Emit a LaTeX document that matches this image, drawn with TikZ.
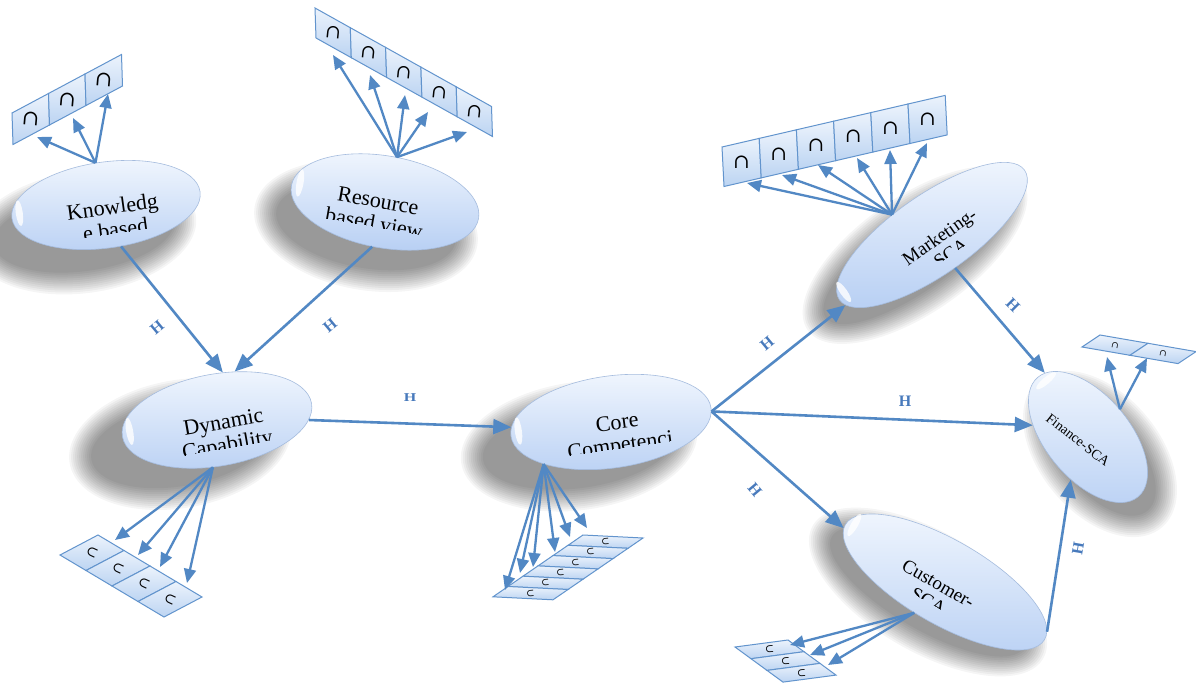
\documentclass[tikz,border=0pt]{standalone}
\usepackage{fontspec}
\setmainfont{Liberation Serif}
\newfontfamily\capfont{DejaVu Serif}
\usetikzlibrary{arrows.meta,calc,shapes.geometric}

\definecolor{linkblue}{RGB}{82,136,196}
\definecolor{boxedge}{RGB}{98,148,205}
\definecolor{boxtop}{RGB}{236,243,252}
\definecolor{boxbot}{RGB}{188,212,242}
\definecolor{bubtop}{RGB}{242,247,254}
\definecolor{bubbot}{RGB}{186,209,244}
\definecolor{bubedge}{RGB}{165,188,222}
\definecolor{tagblue}{RGB}{72,122,188}

\tikzset{
  bubble/.style={ellipse, draw=bubedge, line width=0.6pt, top color=bubtop,
    bottom color=bubbot, inner sep=0pt},
  bubtext/.style={font=\fontsize{22}{22}\selectfont, anchor=base, inner sep=0pt},
  link/.style={draw=linkblue, line width=2.6pt, -{Triangle[length=18pt,width=15pt]}},
  feed/.style={draw=linkblue, line width=2.3pt, -{Triangle[length=14pt,width=12pt]}},
  cell/.style={draw=boxedge, line width=1pt, top color=boxtop, bottom color=boxbot},
  capsym/.style={inner sep=0pt, text=black},
  tag/.style={text=tagblue, font=\fontsize{16}{16}\selectfont\bfseries, inner sep=0pt}
}

% soft drop shadow: stacked translucent ellipses
\newcommand\BubbleShadow[5]{%
  \foreach \k in {0,...,11}{%
    \fill[black, opacity=.04, rotate around={#5:(#1,#2)}] (#1,#2)
      ellipse [x radius={#3pt+18pt-2pt*\k}, y radius={#4pt+18pt-2pt*\k}];}}

% ellipse bubble: name, x, y, rx, ry, angle
\newcommand\Bubble[6]{%
  \gdef\bubx{#2}\gdef\buby{#3}\gdef\bubang{#6}%
  \begin{scope}[shift={(#2,#3)}, rotate=#6, transform shape]
    \node[bubble, minimum width=2*#4pt, minimum height=2*#5pt] (#1) at (0,0) {};
    \fill[white, opacity=.8] (-#4+8,-4) ellipse [x radius=3.5pt, y radius={0.3*#5pt}];
  \end{scope}}

% two text lines, the second one cut off at the given local height
\newcommand\BubbleText[7]{%
  \begin{scope}[shift={(\bubx,\buby)}, rotate=\bubang, transform shape]
    \clip (-150,-60) rectangle (150,#5);
    \node[bubtext] (#1-one) at (#2,#3) {#6};
    \node[bubtext] (#1-two) at (#2,#4) {#7};
  \end{scope}}

% row of indicator cells: last index, origin, step, side, symbol angle, symbol size, prefix
\newcommand\CellRow[7]{%
  \foreach \i in {0,...,#1}{%
    \pgfmathtruncatemacro\j{\i+1}%
    \path[cell] ($#2+\i*#3$) -- ($#2+\j*#3$) -- ($#2+\j*#3+#4$) -- ($#2+\i*#3+#4$) -- cycle;
    \node[capsym, rotate=#5, font=\capfont\fontsize{#6}{#6}\selectfont] (#7\i)
      at ($#2+\i*#3+0.5*#3+0.5*#4$) {∩};
  }}

\begin{document}
\begin{tikzpicture}[x=1pt,y=-1pt]
\useasboundingbox (0,0) rectangle (1196,687);
\fill[white] (0,0) rectangle (1196,687);

% shadows
\BubbleShadow{84}{232}{95}{43}{8}
\BubbleShadow{366}{226}{95}{46}{-10}
\BubbleShadow{180}{444}{94}{46}{10}
\BubbleShadow{579}{446}{101}{46}{8}
\BubbleShadow{915}{255}{113}{40}{35}
\BubbleShadow{928}{592}{115}{42}{-30}
\BubbleShadow{1100}{454}{78}{42}{-50}

% indicator cells
\CellRow{2}{(12,113)}{(36.5,-19.5)}{(1,31.5)}{-5}{21}{kc}
\CellRow{4}{(315,8)}{(35.3,19.7)}{(1,30)}{-6}{19}{rc}
\CellRow{5}{(722,147)}{(37.2,-8.6)}{(2,39.5)}{0}{20}{mc}
\CellRow{3}{(60,555)}{(26,15.5)}{(38,-20)}{65}{14}{dc}
\CellRow{5}{(583,535)}{(-15,10.3)}{(60,3)}{95}{10}{cc}
\CellRow{2}{(735,647)}{(16,11.7)}{(53,-7)}{95}{11}{sc}
\CellRow{1}{(1100,335)}{(48,8.3)}{(-18,12)}{-10}{9}{fc}

% bubbles
\Bubble{K}{106}{205}{95}{43}{8}
\BubbleText{K}{6}{10}{33}{29}{Knowledg}{e based}
\Bubble{R}{385}{202}{95}{46}{-10}
\BubbleText{R}{-7}{7}{30}{26}{Resource}{based view}
\Bubble{D}{217}{420}{96}{46}{10}
\BubbleText{D}{6}{10}{33}{29}{Dynamic}{Capability}
\Bubble{C}{611}{422}{101}{46}{8}
\BubbleText{C}{6}{8}{31}{27}{Core}{Competenci}
\Bubble{M}{932}{235}{113}{40}{35}
\BubbleText{M}{5}{12}{32}{27}{\fontsize{19}{19}\selectfont Marketing-}{\fontsize{19}{19}\selectfont SCA}
\Bubble{S}{945}{582}{115}{42}{-30}
\BubbleText{S}{-5}{11}{31}{26}{\fontsize{19}{19}\selectfont Customer-}{\fontsize{19}{19}\selectfont SCA}
\Bubble{F}{1088}{437}{78}{42}{-50}
\node[rotate=-38, font=\fontsize{14}{14}\selectfont, inner sep=0pt] (F-one) at (1078,440) {Finance-SCA};

% arrow targets at the cells
\foreach \n/\p in {1/{37,137},2/{73,118},3/{108,94}} \coordinate (kt\n) at (\p);
\foreach \n/\p in {1/{333,55},2/{370,75},3/{405,95},4/{428,112},5/{467,132}} \coordinate (rt\n) at (\p);
\foreach \n/\p in {1/{747,183},2/{782,175},3/{818,165},4/{857,158},5/{890,150},6/{927,143}} \coordinate (mt\n) at (\p);
\foreach \n/\p in {1/{115,540},2/{138,555},3/{160,567},4/{187,583}} \coordinate (dt\n) at (\p);
\foreach \n/\p in {1/{505,590},2/{520,573},3/{533,567},4/{555,552},5/{570,537},6/{587,528}} \coordinate (ct\n) at (\p);
\foreach \n/\p in {1/{790,645},2/{810,655},3/{828,665}} \coordinate (st\n) at (\p);
\foreach \n/\p in {1/{1107,357},2/{1147,358}} \coordinate (ft\n) at (\p);

% indicator arrows
\foreach \n in {1,2,3} \draw[feed] (K.96) -- (kt\n);
\foreach \n in {1,...,5} \draw[feed] (R.85) -- (rt\n);
\foreach \n in {1,...,6} \draw[feed] (M.118) -- (mt\n);
\foreach \n in {1,...,4} \draw[feed] (D.255) -- (dt\n);
\foreach \n in {1,...,6} \draw[feed] (C.204) -- (ct\n);
\foreach \n in {1,2,3} \draw[feed] (S.255) -- (st\n);
\foreach \n in {1,2} \draw[feed] (F.91) -- (ft\n);

% structural paths
\draw[link] (K.282) -- (D.73);
\draw[link] (R.264) -- (D.60);
\draw[link] (D.-10) -- (C.175);
\draw[link] (C.358) -- (M.184);
\draw[link] (C.358) -- (F.218);
\draw[link] (C.358) -- (S.182);
\draw[link] (M.270) -- (F.174);
\draw[link] (S.4) -- (F.298);

% path labels
\node[tag, rotate=40] (h1) at (157,327) {H};
\node[tag, rotate=40] (h2) at (330,325) {H};
\node[tag, yscale=.75] (h3) at (410,398) {H};
\node[tag, rotate=40] (h4) at (767,343) {H};
\node[tag] (h5) at (905,401) {H};
\node[tag, rotate=-50] (h6) at (755,490) {H};
\node[tag, rotate=-45] (h7) at (1013,305) {H};
\node[tag, rotate=80] (h8) at (1078,548) {H};
\end{tikzpicture}
\end{document}
